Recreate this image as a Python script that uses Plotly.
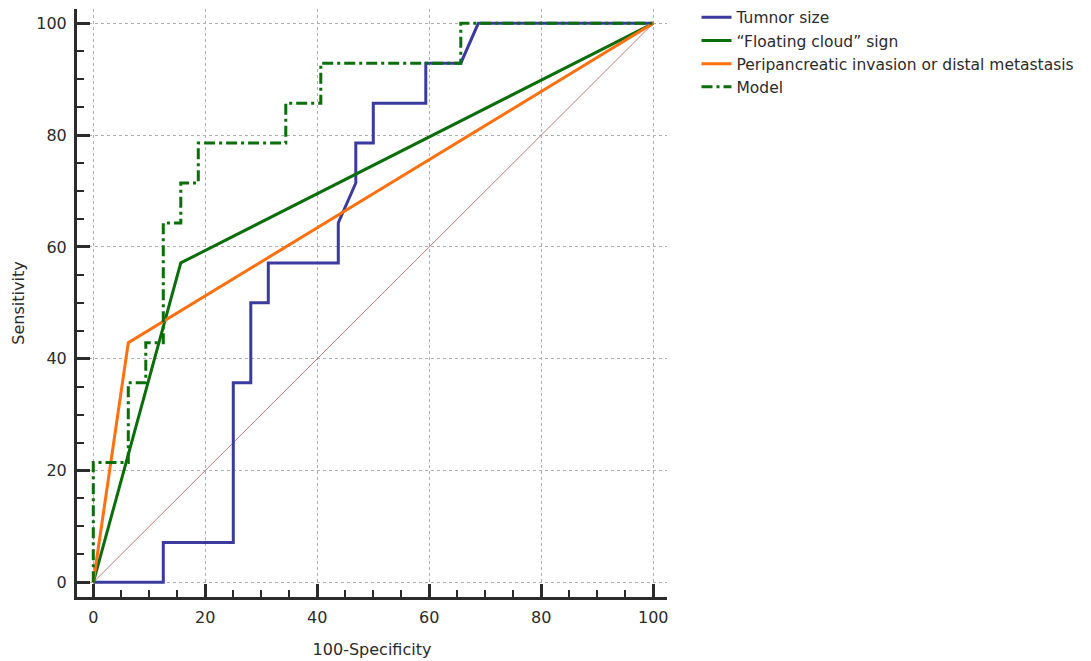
import plotly.graph_objects as go

# ROC curves (100-Specificity, Sensitivity)
tumor_x = [0, 12.5, 12.5, 25, 25, 28.125, 28.125, 31.25, 31.25, 43.75, 43.75, 46.875, 46.875, 50, 50, 59.375, 59.375, 65.625, 68.75, 100]
tumor_y = [0, 0, 7.14, 7.14, 35.71, 35.71, 50, 50, 57.14, 57.14, 64.29, 71.43, 78.57, 78.57, 85.71, 85.71, 92.86, 92.86, 100, 100]

cloud_x = [0, 15.625, 100]
cloud_y = [0, 57.14, 100]

peri_x = [0, 6.25, 100]
peri_y = [0, 42.86, 100]

model_x = [0, 0, 6.25, 6.25, 9.375, 9.375, 12.5, 12.5, 15.625, 15.625, 18.75, 18.75, 34.375, 34.375, 40.625, 40.625, 65.625, 65.625, 100]
model_y = [0, 21.43, 21.43, 35.71, 35.71, 42.86, 42.86, 64.29, 64.29, 71.43, 71.43, 78.57, 78.57, 85.71, 85.71, 92.86, 92.86, 100, 100]

ref_x = [0, 100]
ref_y = [0, 100]

FONT = "DejaVu Sans"
AX = "#2b2b2b"

fig = go.Figure()
fig.add_trace(go.Scatter(x=ref_x, y=ref_y, mode="lines", line=dict(color="#c47a7a", width=1),
                         showlegend=False, hoverinfo="skip"))
fig.add_trace(go.Scatter(x=tumor_x, y=tumor_y, mode="lines", name="Tumnor size",
                         line=dict(color="#3b3b9e", width=3)))
fig.add_trace(go.Scatter(x=cloud_x, y=cloud_y, mode="lines", name="“Floating cloud” sign",
                         line=dict(color="#0b6e0b", width=3)))
fig.add_trace(go.Scatter(x=peri_x, y=peri_y, mode="lines", name="Peripancreatic invasion or distal metastasis",
                         line=dict(color="#ff7010", width=3)))
fig.add_trace(go.Scatter(x=model_x, y=model_y, mode="lines", name="Model",
                         line=dict(color="#0b6e0b", width=3, dash="11px,4px,3px,4px")))

axis_common = dict(
    showline=True, linewidth=3, linecolor=AX, mirror=False,
    ticks="inside", ticklen=13, tickwidth=3, tickcolor=AX,
    tickmode="array", tickvals=[0, 20, 40, 60, 80, 100],
    showgrid=True, gridcolor="#b0b0b0", griddash="dot", gridwidth=1,
    zeroline=False,
    minor=dict(ticks="inside", ticklen=7, tickwidth=2, tickcolor=AX, dtick=5, tick0=0, showgrid=False),
    tickfont=dict(family=FONT, size=16, color=AX),
    ticklabelstandoff=4,
)

fig.update_xaxes(range=[-2.91, 102.45], title=dict(text="100-Specificity", font=dict(family=FONT, size=16, color=AX), standoff=18), **axis_common)
fig.update_yaxes(range=[-2.63, 102.56], title=dict(text="Sensitivity", font=dict(family=FONT, size=16, color=AX), standoff=8), **axis_common)

fig.update_layout(
    width=1083, height=653,
    margin=dict(l=69, r=424, t=1, b=64, autoexpand=False),
    plot_bgcolor="white", paper_bgcolor="white",
    legend=dict(x=1.05, y=1.014, xanchor="left", yanchor="top",
                font=dict(family=FONT, size=15.5, color=AX),
                bgcolor="rgba(0,0,0,0)", tracegroupgap=0, itemwidth=30),
    font=dict(family=FONT, color=AX),
)

fig.write_html("out.html")
